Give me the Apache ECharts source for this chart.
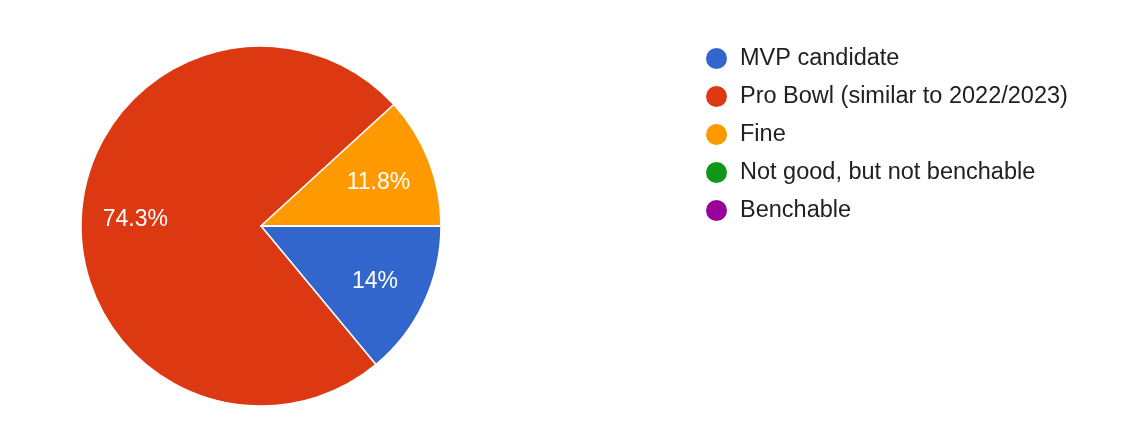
<!DOCTYPE html>
<html>
<head>
<meta charset="utf-8">
<script src="https://cdn.jsdelivr.net/npm/echarts@6/dist/echarts.min.js"></script>
<style>
  html, body { margin: 0; padding: 0; background: #fff; }
  #chart { width: 1134px; height: 436px; }
</style>
</head>
<body>
<div id="chart"></div>
<script>
// answers and their share in percent
var categories = ['MVP candidate', 'Pro Bowl (similar to 2022/2023)', 'Fine', 'Not good, but not benchable', 'Benchable']
var shares = [14, 74.3, 11.8, 0, 0]
var colors = ['#3366cc', '#dc3912', '#ff9900', '#109618', '#990099']

var chart = echarts.init(document.getElementById('chart'))

var pieData = categories.map(function (name, i) {
  return { name: name, value: shares[i], itemStyle: { color: colors[i] } }
})
// same values, used only to place the labels further out than 'inside' would
var labelData = categories.map(function (name, i) {
  return {
    name: name,
    value: shares[i],
    label: { show: shares[i] > 0 }
  }
})

var option = {
  animation: false,
  textStyle: { fontFamily: "'Liberation Sans', Arial, sans-serif" },
  legend: {
    orient: 'vertical',
    left: 699,
    top: 41,
    itemWidth: 23,
    itemHeight: 23,
    itemGap: 13,
    icon: 'circle',
    selectedMode: false,
    data: categories,
    textStyle: {
      fontFamily: "'Liberation Sans', Arial, sans-serif",
      fontSize: 23.5,
      color: '#212121',
      padding: [0, 0, 0, 7]
    }
  },
  series: [{
    type: 'pie',
    center: [261, 226],
    radius: [0, 180],
    startAngle: 0,
    clockwise: true,
    silent: true,
    itemStyle: { borderColor: '#fff', borderWidth: 1.5 },
    label: { show: false },
    labelLine: { show: false },
    data: pieData
  }, {
    type: 'pie',
    center: [261, 226],
    radius: [66, 180],
    startAngle: 0,
    clockwise: true,
    silent: true,
    itemStyle: { color: 'transparent', borderWidth: 0 },
    labelLine: { show: false },
    label: {
      position: 'inside',
      color: '#fff',
      offset: [0, 2],
      fontFamily: "'Liberation Sans', Arial, sans-serif",
      fontSize: 23,
      formatter: '{c}%'
    },
    data: labelData
  }]
}

chart.setOption(option)
</script>
</body>
</html>
